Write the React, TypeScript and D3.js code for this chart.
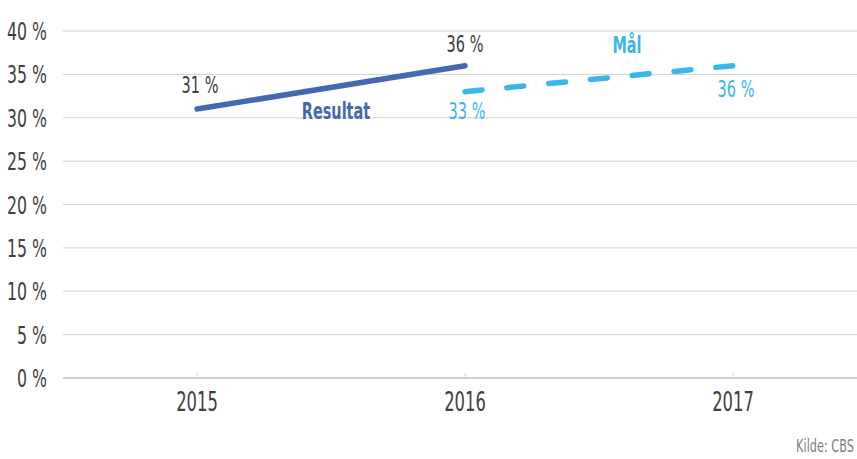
import React from "react";
import * as d3 from "d3";

const years = ["2015", "2016", "2017"];
const resultatYears = ["2015", "2016"];
const resultatValues = [31, 36];
const malYears = ["2016", "2017"];
const malValues = [33, 36];
const yTicks = [0, 5, 10, 15, 20, 25, 30, 35, 40];

const W = 857;
const H = 459;
const FONT = "'DejaVu Sans Condensed', 'Liberation Sans Narrow', 'Liberation Sans', sans-serif";
const SX = 0.7;

function Txt({ x, y, anchor = "middle", size = 25, fill = "#404040", weight = "normal", sx = SX, children }: any) {
  return (
    <text
      transform={`translate(${x},${y}) scale(${sx},1)`}
      textAnchor={anchor}
      fontFamily={FONT}
      fontSize={size}
      fontWeight={weight}
      fill={fill}
    >
      {children}
    </text>
  );
}

export default function App() {
  const x = d3.scalePoint<string>().domain(years).range([197, 733]);
  const y = d3.scaleLinear().domain([0, 40]).range([378, 31]);
  const line = d3
    .line<[string, number]>()
    .x((d) => x(d[0]) as number)
    .y((d) => y(d[1]));
  const resData = resultatYears.map((yr, i) => [yr, resultatValues[i]] as [string, number]);
  const malData = malYears.map((yr, i) => [yr, malValues[i]] as [string, number]);
  const left = 63;
  const blue = "#4569b0";
  const cyan = "#3bb6e8";

  return (
    <svg width={W} height={H} style={{ position: "absolute", left: 0, top: 0, background: "#fff" }}>
      {yTicks.map((t) => (
        <g key={t}>
          <line x1={left} x2={W} y1={y(t)} y2={y(t)} stroke={t === 0 ? "#bfbfbf" : "#d0d0d0"} strokeWidth={t === 0 ? 1.5 : 1} />
          <Txt x={47} y={y(t) + 9} anchor="end" size={25} fill="#404040">{`${t} %`}</Txt>
        </g>
      ))}
      {years.map((yr) => (
        <g key={yr}>
          <line x1={x(yr)} x2={x(yr)} y1={y(0) - 5} y2={y(0)} stroke="#d0d0d0" />
          <Txt x={x(yr)} y={y(0) + 33} size={26} fill="#404040">{yr}</Txt>
        </g>
      ))}
      <path d={line(resData) || ""} fill="none" stroke={blue} strokeWidth={5.5} strokeLinecap="round" />
      <path d={line(malData) || ""} fill="none" stroke={cyan} strokeWidth={5.5} strokeLinecap="round" strokeDasharray="17 25" />

      <Txt x={(x("2015") as number) + 3} y={y(31) - 16} size={23} fill="#404040">{`${resultatValues[0]} %`}</Txt>
      <Txt x={(x("2016") as number)} y={y(36) - 14} size={23} fill="#404040">{`${resultatValues[1]} %`}</Txt>
      <Txt x={(x("2016") as number) + 2} y={y(33) + 27} size={23} fill={cyan}>{`${malValues[0]} %`}</Txt>
      <Txt x={(x("2017") as number) + 3} y={y(36) + 31} size={23} fill={cyan}>{`${malValues[1]} %`}</Txt>
      <Txt x={336} y={119} size={23} fill={blue} weight="bold">Resultat</Txt>
      <Txt x={627} y={53} size={23} fill={cyan} weight="bold">Mål</Txt>
      <Txt x={854} y={452} anchor="end" size={18} fill="#7f7f7f">Kilde: CBS</Txt>
    </svg>
  );
}
